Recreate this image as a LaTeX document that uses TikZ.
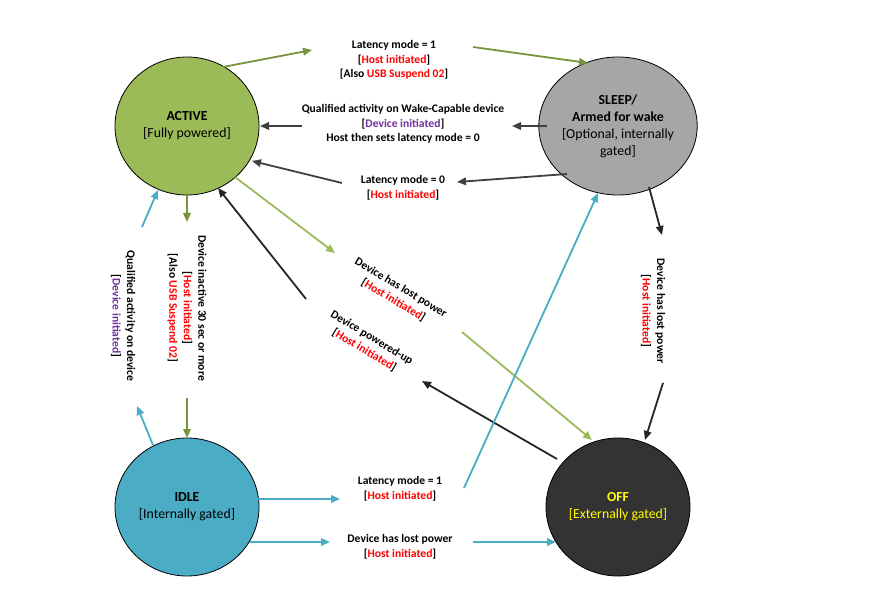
\documentclass[tikz,border=0pt]{standalone}
\usepackage{fontspec}
\setmainfont{Carlito}
\usetikzlibrary{arrows.meta,shapes.geometric}
\definecolor{activec}{HTML}{9BBB59}
\definecolor{sleepc}{HTML}{A6A6A6}
\definecolor{idlec}{HTML}{4BACC6}
\definecolor{offc}{HTML}{333333}
\definecolor{oliveln}{HTML}{77933C}
\definecolor{lgreenln}{HTML}{9BBB59}
\definecolor{grayln}{HTML}{404040}
\definecolor{darkln}{HTML}{262626}
\definecolor{blueln}{HTML}{4BACC6}
\definecolor{myred}{HTML}{FF0000}
\definecolor{mypurple}{HTML}{7030A0}
\definecolor{myyellow}{HTML}{FFFF00}
\newcommand\hostlbl{{[}\textcolor{myred}{Host initiated}{]}}
\newcommand\devlbl{{[}\textcolor{mypurple}{Device initiated}{]}}
\newcommand\usblbl{{[}Also \textcolor{myred}{USB Suspend 02}{]}}
\begin{document}
\begin{tikzpicture}[x=1pt,y=-1pt,
  state/.style={ellipse, draw=black, line width=0.8pt, minimum width=144pt, minimum height=138pt,
    inner sep=0pt, align=center, font=\fontsize{13.8}{17}\selectfont},
  lbl/.style={align=center, inner sep=0pt, font=\fontsize{11.6}{14.5}\selectfont\bfseries},
  arr/.style={line width=1.8pt, -{Triangle[length=9pt,width=7.5pt]}}]
\useasboundingbox (0,0) rectangle (870,612);
\fill[white] (0,0) rectangle (870,612);

% states
\node[state, fill=activec] (active) at (187,126) {\textbf{ACTIVE}\\{[}Fully powered{]}};
\node[state, fill=sleepc] (sleep) at (618,126) {\textbf{SLEEP/}\\\textbf{Armed for wake}\\{[}Optional, internally\\gated{]}};
\node[state, fill=idlec] (idle) at (187,507) {\textbf{IDLE}\\{[}Internally gated{]}};
\node[state, fill=offc, text=myyellow] (off) at (618,507) {\textbf{OFF}\\{[}Externally gated{]}};

% labels
\node[lbl] (ltop) at (394,60) {Latency mode = 1\\\hostlbl\\\usblbl};
\node[lbl] (lmid) at (403,124) {Qualified activity on Wake-Capable device\\\devlbl\\Host then sets latency mode = 0};
\node[lbl] (llow) at (403,188) {Latency mode = 0\\\hostlbl};
\node[lbl, rotate=-90] (lai) at (187,308) {Device inactive 30 sec or more\\\hostlbl\\\usblbl};
\node[lbl, rotate=-90] (lia) at (123,316) {Qualified activity on device\\\devlbl};
\node[lbl, rotate=-31] (lao) at (397,294) {Device has lost power\\\hostlbl};
\node[lbl, rotate=-31] (loa) at (368,344) {Device powered-up\\\hostlbl};
\node[lbl, rotate=-90] (lso) at (653,311) {Device has lost power\\\hostlbl};
\node[lbl] (lis) at (400,489) {Latency mode = 1\\\hostlbl};
\node[lbl] (lio) at (400,547) {Device has lost power\\\hostlbl};

% segment end points
\coordinate (a1s) at (223,67);  \coordinate (a1e) at (312,50);
\coordinate (a2s) at (473,47);  \coordinate (a2e) at (588,63);
\coordinate (b1s) at (547,126); \coordinate (b1e) at (512,126);
\coordinate (b2s) at (302,126); \coordinate (b2e) at (260,126);
\coordinate (c1s) at (567,174); \coordinate (c1e) at (457,182);
\coordinate (c2s) at (342,183); \coordinate (c2e) at (252,161);
\coordinate (d1s) at (187,195); \coordinate (d1e) at (187,222);
\coordinate (d2s) at (187,398); \coordinate (d2e) at (187,438);
\coordinate (e1s) at (153,445); \coordinate (e1e) at (137,406);
\coordinate (e2s) at (142,227); \coordinate (e2e) at (158,190);
\coordinate (f1s) at (235,177); \coordinate (f1e) at (335,253);
\coordinate (f2s) at (462,332); \coordinate (f2e) at (592,440);
\coordinate (g1s) at (557,459); \coordinate (g1e) at (422,381);
\coordinate (g2s) at (306,299); \coordinate (g2e) at (218,188);
\coordinate (h1s) at (649,187); \coordinate (h1e) at (662,235);
\coordinate (h2s) at (663,383); \coordinate (h2e) at (645,440);
\coordinate (i1s) at (258,499); \coordinate (i1e) at (340,499);
\coordinate (i2s) at (464,488); \coordinate (i2e) at (598,193);
\coordinate (j1s) at (250,542); \coordinate (j1e) at (330,542);
\coordinate (j2s) at (473,542); \coordinate (j2e) at (556,542);

% connectors
\draw[arr, oliveln] (a1s) -- (a1e);
\draw[arr, oliveln] (a2s) -- (a2e);
\draw[arr, grayln] (b1s) -- (b1e);
\draw[arr, grayln] (b2s) -- (b2e);
\draw[arr, grayln] (c1s) -- (c1e);
\draw[arr, grayln] (c2s) -- (c2e);
\draw[arr, oliveln] (d1s) -- (d1e);
\draw[arr, oliveln] (d2s) -- (d2e);
\draw[arr, blueln] (e1s) -- (e1e);
\draw[arr, blueln] (e2s) -- (e2e);
\draw[arr, lgreenln] (f1s) -- (f1e);
\draw[arr, lgreenln] (f2s) -- (f2e);
\draw[arr, darkln] (g1s) -- (g1e);
\draw[arr, darkln] (g2s) -- (g2e);
\draw[arr, darkln] (h1s) -- (h1e);
\draw[arr, darkln] (h2s) -- (h2e);
\draw[arr, blueln] (i1s) -- (i1e);
\draw[arr, blueln] (i2s) -- (i2e);
\draw[arr, blueln] (j1s) -- (j1e);
\draw[arr, blueln] (j2s) -- (j2e);
\end{tikzpicture}
\end{document}
